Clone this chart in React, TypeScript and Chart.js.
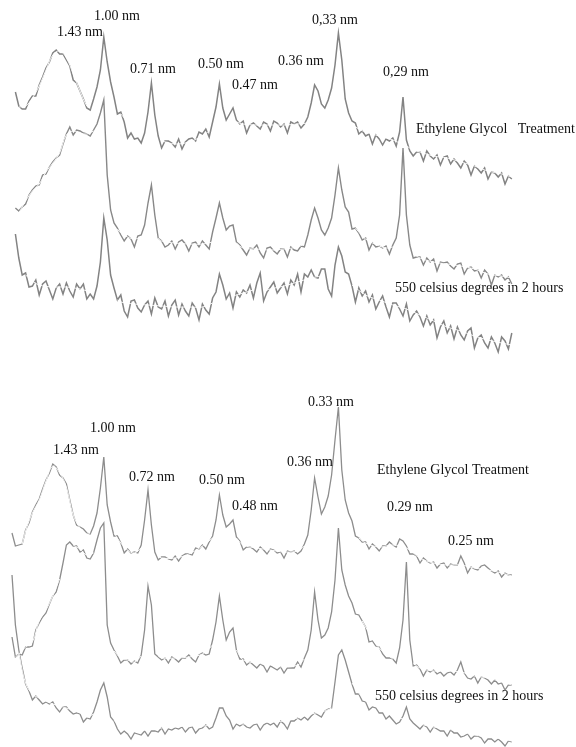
import { useEffect, useRef } from "react";
import { Chart, registerables } from "chart.js";

Chart.register(...registerables);

// 2θ sampling grid (degrees)
const STEP = 0.25;
const START_TOP = 2.25;
const START_BOTTOM = 2.0;

// ---------- Upper figure: intensities (counts, arbitrary) ----------
const egUpper = [
  108, 94, 91, 91, 99, 104, 104, 115, 123, 132,
  138, 147, 150, 146, 146, 140, 134, 120, 117, 109,
  101, 92, 90, 101, 113, 130, 163, 138, 118, 103,
  86, 88, 78, 62, 67, 61, 62, 57, 67, 88,
  117, 85, 64, 52, 59, 59, 57, 53, 61, 51,
  58, 61, 62, 59, 68, 66, 71, 63, 78, 93,
  116, 92, 80, 86, 92, 80, 76, 79, 67, 75,
  77, 74, 71, 78, 76, 69, 79, 77, 73, 76,
  67, 78, 76, 78, 72, 76, 83, 97, 115, 109,
  96, 92, 100, 112, 135, 167, 140, 101, 87, 79,
  77, 66, 69, 64, 66, 56, 65, 61, 55, 61,
  59, 62, 54, 68, 103, 60, 49, 44, 48, 48,
  39, 49, 44, 41, 45, 35, 43, 44, 36, 41,
  37, 32, 39, 35, 25, 34, 31, 27, 32, 21,
  28, 27, 23, 27, 16, 24, 21,
];
const airUpper = [
  92, 89, 93, 96, 105, 110, 114, 115, 125, 126,
  133, 138, 142, 145, 156, 166, 173, 165, 170, 169,
  167, 166, 164, 170, 176, 187, 200, 125, 90, 77,
  72, 65, 59, 64, 61, 53, 64, 65, 75, 97,
  115, 85, 62, 59, 53, 55, 59, 51, 58, 60,
  56, 49, 57, 58, 53, 59, 55, 51, 68, 82,
  97, 82, 70, 74, 75, 58, 55, 50, 45, 52,
  51, 55, 47, 42, 52, 53, 49, 46, 51, 51,
  43, 53, 50, 49, 54, 53, 65, 80, 92, 82,
  70, 65, 72, 82, 105, 132, 110, 93, 88, 71,
  72, 67, 60, 62, 50, 57, 53, 54, 52, 54,
  46, 55, 62, 85, 152, 85, 55, 42, 43, 43,
  35, 42, 38, 41, 29, 38, 37, 38, 34, 31,
  36, 37, 26, 32, 33, 29, 30, 22, 30, 26,
  15, 25, 23, 25, 20, 23, 16,
];
const heatUpper = [
  126, 102, 85, 87, 73, 74, 80, 65, 76, 79,
  70, 61, 72, 76, 66, 77, 69, 63, 76, 71,
  76, 61, 66, 61, 74, 98, 142, 120, 85, 72,
  60, 65, 49, 43, 59, 60, 52, 48, 55, 59,
  46, 62, 53, 51, 59, 44, 55, 60, 45, 56,
  49, 44, 57, 52, 40, 56, 50, 46, 62, 68,
  86, 75, 61, 67, 52, 68, 63, 70, 67, 75,
  62, 77, 87, 59, 68, 73, 78, 67, 72, 77,
  66, 80, 75, 86, 68, 86, 83, 90, 83, 82,
  91, 91, 71, 64, 95, 113, 104, 88, 86, 74,
  58, 72, 64, 69, 58, 65, 51, 58, 64, 53,
  43, 57, 57, 51, 44, 56, 39, 45, 49, 43,
  34, 44, 35, 40, 22, 33, 39, 27, 34, 21,
  33, 25, 20, 29, 32, 12, 22, 25, 17, 12,
  23, 17, 8, 23, 19, 11, 27,
];

// ---------- Lower figure ----------
const egLower = [
  67, 54, 55, 56, 70, 77, 88, 95, 101, 111,
  120, 127, 136, 133, 125, 122, 116, 100, 85, 75,
  73, 71, 67, 66, 74, 87, 112, 143, 95, 78,
  64, 64, 57, 47, 51, 47, 48, 47, 55, 80,
  110, 75, 48, 40, 43, 43, 41, 40, 44, 39,
  44, 46, 46, 45, 52, 51, 55, 51, 58, 64,
  80, 105, 85, 73, 76, 80, 63, 59, 50, 53,
  53, 51, 48, 53, 50, 46, 51, 50, 47, 48,
  42, 49, 48, 49, 46, 49, 56, 65, 90, 122,
  103, 86, 93, 104, 125, 160, 193, 130, 100, 87,
  79, 64, 62, 58, 58, 51, 56, 53, 49, 54,
  54, 58, 55, 53, 61, 59, 54, 46, 46, 44,
  37, 42, 39, 37, 38, 32, 36, 37, 32, 36,
  35, 35, 44, 37, 27, 33, 31, 30, 34, 35,
  32, 29, 27, 29, 23, 27, 25, 25,
];
const airLower = [
  63, 43, 46, 45, 53, 53, 54, 70, 77, 83,
  87, 96, 104, 108, 120, 137, 155, 158, 154, 154,
  148, 150, 142, 141, 147, 160, 172, 177, 75, 57,
  50, 44, 37, 40, 40, 36, 39, 37, 45, 70,
  114, 95, 46, 43, 40, 42, 37, 43, 41, 38,
  42, 42, 45, 41, 38, 45, 47, 45, 46, 60,
  78, 104, 80, 60, 68, 72, 50, 41, 41, 35,
  38, 35, 32, 36, 34, 28, 34, 32, 30, 33,
  27, 32, 32, 32, 38, 33, 42, 50, 70, 108,
  80, 62, 65, 72, 88, 120, 172, 130, 115, 104,
  97, 86, 85, 79, 73, 58, 59, 54, 53, 46,
  42, 42, 41, 37, 52, 80, 138, 60, 34, 35,
  31, 24, 30, 28, 30, 26, 28, 24, 27, 28,
  25, 30, 38, 27, 22, 21, 24, 17, 23, 22,
  20, 16, 20, 16, 17, 10, 15, 15,
];
const heatLower = [
  175, 125, 100, 82, 66, 59, 50, 54, 50, 46,
  48, 46, 48, 42, 38, 43, 43, 39, 36, 37,
  36, 28, 32, 31, 38, 48, 60, 67, 53, 33,
  29, 21, 16, 19, 16, 11, 17, 16, 15, 19,
  14, 19, 19, 18, 22, 16, 21, 20, 22, 21,
  23, 18, 22, 23, 17, 21, 22, 25, 21, 23,
  32, 42, 42, 34, 30, 21, 26, 24, 26, 23,
  22, 25, 26, 20, 25, 27, 25, 27, 23, 29,
  26, 21, 29, 29, 32, 30, 33, 30, 34, 37,
  35, 33, 39, 41, 42, 68, 95, 100, 90, 78,
  66, 56, 56, 49, 48, 40, 43, 42, 37, 37,
  31, 34, 30, 26, 28, 34, 43, 31, 27, 24,
  21, 25, 23, 18, 23, 21, 19, 19, 14, 20,
  17, 17, 13, 14, 16, 11, 14, 14, 12, 7,
  11, 11, 8, 11, 8, 4, 9, 8,
];

// smoothed background curves: [2θ, intensity] (null = break)
type FitPt = [number, number | null];
const egUpperFit: FitPt[] = [[2.5,93],[3,94],[3.5,102],[4,114],[4.5,130],[5,145],[5.5,149],[6,142],[6.5,126],[7,109],[7.5,94],[7.75,92],[8.5,null],[10,86],[10.5,78],[11,69],[11.5,63],[12,null],[13,59],[14,56],[15,58],[16,64],[16.5,69],[17.5,null],[18.5,78],[19,76],[20,75],[21,75],[22,75],[23,76],[23.75,77],[25,null],[27,76],[27.5,71],[28,68],[29,64],[30,60],[30.5,57],[31,54],[31.5,50],[32,48],[33,44],[34,42],[35,38],[36,34],[37,29],[38,26],[38.75,23]];
const airUpperFit: FitPt[] = [[2.5,87],[3,99],[3.5,109],[4,116],[4.5,128],[5,137],[5.5,147],[6,165],[6.5,169],[7,167],[7.5,166],[8,169],[9,null],[9.75,71],[10,67],[10.5,63],[11,61],[11.5,63],[12,null],[12.75,62],[13,59],[14,57],[15,56],[16,56],[16.75,58],[17.5,null],[18.5,57],[19,52],[20,51],[21,50],[22,51],[23,53],[23.5,56],[25,null],[27.25,72],[27.5,68],[27.75,64],[28,61],[28.5,57],[29,54],[29.5,52],[30,53],[30.75,null],[31.5,46],[32,42],[33,38],[34,36],[35,34],[36,31],[37,26],[38,24],[38.75,22]];
const heatUpperFit: FitPt[] = [[3,85],[3.5,79],[4,75],[5,73],[6,73],[7,71],[7.5,69],[8,66],[8.75,null],[9.75,60],[10,58],[11,56],[12,55],[13,54],[14,53],[15,53],[16,53],[16.75,57],[17.25,null],[18.25,64],[19,67],[19.75,70],[20.25,null],[20.75,70],[21,71],[22,74],[23,78],[24,82],[24.75,84],[25.5,null],[27,75],[28,65],[29,60],[30,55],[31,51],[32,45],[33,39],[34,33],[35,29],[36,24],[37,20],[38,17],[38.75,15]];
const egLowerFit: FitPt[] = [[2.75,56],[3,69],[3.5,87],[4,100],[4.5,119],[5,134],[5.5,127],[6,113],[6.5,85],[7,72],[7.5,66],[7.75,67],[8.5,null],[9.5,67],[10,57],[10.5,50],[11,47],[11.5,52],[12,null],[12.75,44],[13,42],[14,42],[15,46],[16,54],[16.75,62],[17.5,null],[18.5,62],[19,55],[20,52],[21,50],[22,48],[23,49],[23.5,54],[25,null],[27.5,62],[28,57],[29,53],[30,55],[31,52],[32,42],[33,37],[34,35],[35,35],[36,32],[37,30],[38,27],[38.75,24]];
const airLowerFit: FitPt[] = [[2.25,43],[2.5,46],[3,53],[3.5,58],[4,79],[4.5,90],[5,104],[5.5,121],[6,null],[6.5,155],[7,151],[7.5,145],[8,147],[9,null],[9.5,49],[10,42],[10.5,40],[11,38],[11.5,44],[12,null],[12.75,44],[13,42],[14,42],[15,43],[16,46],[16.75,55],[17.5,null],[18.5,50],[19,40],[20,37],[21,35],[22,33],[23,35],[23.5,41],[25,null],[27.75,79],[28,73],[29,52],[30,41],[30.75,null],[31.5,37],[32,32],[33,29],[34,29],[35,28],[36,24],[37,22],[38,18],[38.75,15]];
const heatLowerFit: FitPt[] = [[2.5,97],[3,67],[3.5,56],[4,52],[5,46],[6,42],[7,37],[7.5,33],[8,36],[8.75,null],[9.5,30],[10,22],[11,19],[12,20],[13,22],[14,23],[15,24],[16,24],[16.75,25],[17.5,null],[18.25,28],[19,26],[20,27],[21,28],[22,29],[23,32],[24,36],[25,39],[25.5,42],[26.25,null],[27,67],[27.5,57],[28,49],[29,42],[30,34],[30.75,31],[31.25,null],[31.75,28],[32,26],[33,23],[34,21],[35,18],[36,15],[37,13],[38,11],[38.75,9]];

// vertical stacking offsets of the six patterns
const traceOffsets = [550, 450, 390, 150, 50, 0];

// annotations: text, 2θ position, level
const labelTexts = [
  "1.43 nm", "1.00 nm", "0.71 nm", "0.50 nm", "0.47 nm", "0.36 nm", "0,33 nm", "0,29 nm",
  "Ethylene Glycol   Treatment", "550 celsius degrees in 2 hours",
  "1.00 nm", "1.43 nm", "0.72 nm", "0.50 nm", "0.48 nm", "0.33 nm", "0.36 nm",
  "Ethylene Glycol Treatment", "0.29 nm", "0.25 nm", "550 celsius degrees in 2 hours",
];
const labelX = [5.31, 8.03, 10.68, 15.68, 18.18, 21.56, 24.06, 29.28, 31.7, 30.16,
  7.74, 5.01, 10.6, 15.75, 18.18, 23.76, 22.22, 28.84, 29.57, 34.06, 28.69];
const labelY = [714, 730, 677, 682, 661, 685, 726, 674, 617, 458,
  318, 296, 269, 266, 240, 344, 284, 276, 239, 205, 50];

const X_MIN = 1.1176;
const X_MAX = 43.47;

export default function App() {
  const ref = useRef<HTMLCanvasElement | null>(null);

  useEffect(() => {
    const canvas = ref.current;
    if (!canvas) return;
    const series = [
      { v: egUpper, fit: egUpperFit, start: START_TOP, off: traceOffsets[0], color: "#838383", w: 1.5 },
      { v: airUpper, fit: airUpperFit, start: START_TOP, off: traceOffsets[1], color: "#888888", w: 1.4 },
      { v: heatUpper, fit: heatUpperFit, start: START_TOP, off: traceOffsets[2], color: "#838383", w: 1.5 },
      { v: egLower, fit: egLowerFit, start: START_BOTTOM, off: traceOffsets[3], color: "#8d8d8d", w: 1.3 },
      { v: airLower, fit: airLowerFit, start: START_BOTTOM, off: traceOffsets[4], color: "#8d8d8d", w: 1.3 },
      { v: heatLower, fit: heatLowerFit, start: START_BOTTOM, off: traceOffsets[5], color: "#8d8d8d", w: 1.3 },
    ];
    const datasets: any[] = [];
    series.forEach((s) => {
      datasets.push({
        data: s.v.map((y, i) => ({ x: s.start + i * STEP, y: s.off + y })),
        borderColor: s.color,
        borderWidth: s.w,
        pointRadius: 0,
        tension: 0,
        fill: false,
        order: 2,
      });
      datasets.push({
        data: s.fit.map(([x, y]) => ({ x, y: y === null ? null : s.off + y })),
        borderColor: "rgba(255,255,255,0.9)",
        borderWidth: 1,
        pointRadius: 0,
        tension: 0.4,
        spanGaps: false,
        fill: false,
        order: 1,
      });
    });

    const labelPlugin = {
      id: "peakLabels",
      afterDraw(chart: any) {
        const ctx = chart.ctx;
        const xs = chart.scales.x;
        const ys = chart.scales.y;
        ctx.save();
        ctx.fillStyle = "#111";
        ctx.textAlign = "left";
        ctx.textBaseline = "alphabetic";
        ctx.font = "14px 'Liberation Serif', 'Times New Roman', serif";
        labelTexts.forEach((t, i) => {
          ctx.fillText(t, xs.getPixelForValue(labelX[i]), ys.getPixelForValue(labelY[i]));
        });
        ctx.restore();
      },
    };

    const chart = new Chart(canvas, {
      type: "line",
      data: { datasets },
      options: {
        animation: false,
        responsive: false,
        devicePixelRatio: 1,
        layout: { padding: 0 },
        plugins: { legend: { display: false }, tooltip: { enabled: false } },
        scales: {
          x: { type: "linear", min: X_MIN, max: X_MAX, display: false },
          y: { type: "linear", min: 3, max: 750, display: false },
        },
      },
      plugins: [labelPlugin],
    });
    return () => chart.destroy();
  }, []);

  return (
    <div style={{ position: "fixed", left: 0, top: 0, width: 576, height: 747, background: "#fff" }}>
      <canvas ref={ref} width={576} height={747} />
    </div>
  );
}
